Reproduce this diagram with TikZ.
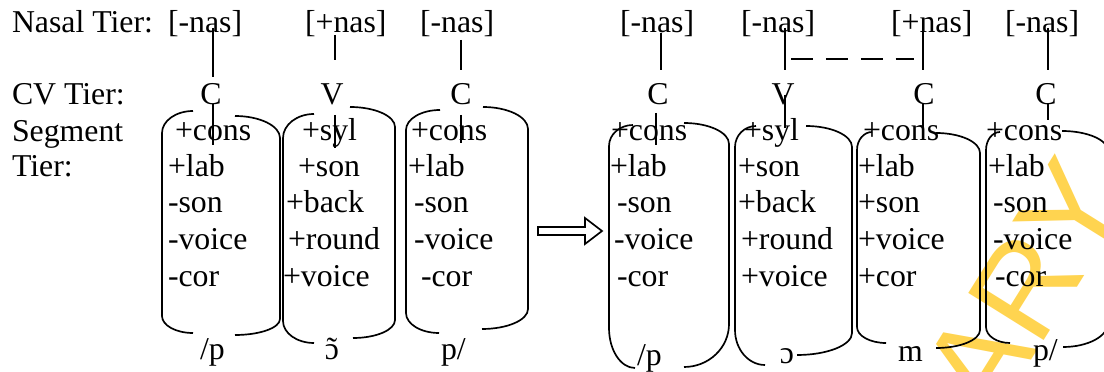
\documentclass[tikz,border=0pt]{standalone}
\usepackage{fontspec}
\setmainfont{Liberation Serif}
\newfontfamily\wmfont{Liberation Sans}
\definecolor{wmyellow}{RGB}{255,212,80}
\newcommand{\brhalf}[7]{%
 \pgfmathsetmacro{\BRca}{#2+0.552*(#1-#2)}%
 \pgfmathsetmacro{\BRcb}{#3+0.448*#4}%
 \pgfmathsetmacro{\BRys}{#3+#4}%
 \pgfmathsetmacro{\BRye}{#6-#7}%
 \pgfmathsetmacro{\BRcc}{#6-0.448*#7}%
 \pgfmathsetmacro{\BRcd}{#5+0.552*(#1-#5)}%
 \draw[brk] (#2,#3) .. controls (\BRca,#3) and (#1,\BRcb) .. (#1,\BRys) -- (#1,\BRye) .. controls (#1,\BRcc) and (\BRcd,#6) .. (#5,#6);%
}
\begin{document}
\begin{tikzpicture}[x=0.387pt,y=-0.387pt,
  txt/.style={anchor=base west,inner sep=0pt,outer sep=0pt,font=\fontsize{12.3}{14}\selectfont},
  ctr/.style={anchor=base,inner sep=0pt,outer sep=0pt,font=\fontsize{12.3}{14}\selectfont},
  brk/.style={line width=0.65pt},
  conn/.style={line width=0.65pt},
  dashconn/.style={line width=0.65pt,dash pattern=on 8.5pt off 5pt}]
\clip (0,0) rectangle (1104,372);
\fill[white] (0,0) rectangle (1104,372);
% watermark fragment
\node[rotate=58,text=wmyellow,inner sep=0pt,font=\wmfont\fontsize{50}{50}\selectfont] (wm) at (1025,287) {ARY};
% row labels
\node[txt] (lnas) at (12,33) {Nasal Tier:};
\node[txt] (lcv) at (12,105) {CV Tier:};
\node[txt] (lseg) at (12,142) {Segment};
\node[txt] (ltier) at (12,177) {Tier:};
% nasal tier
\node[txt] (na1) at (168,33) {[-nas]};
\node[txt] (na2) at (305,33) {[+nas]};
\node[txt] (na3) at (420,33) {[-nas]};
\node[txt] (nb1) at (620,33) {[-nas]};
\node[txt] (nb2) at (741,33) {[-nas]};
\node[txt] (nb3) at (891,33) {[+nas]};
\node[txt] (nb4) at (1005,33) {[-nas]};
% CV tier
\node[ctr] (ca1) at (211,105) {C};
\node[ctr] (ca2) at (332,105) {V};
\node[ctr] (ca3) at (461,105) {C};
\node[ctr] (cb1) at (658,105) {C};
\node[ctr] (cb2) at (783,105) {V};
\node[ctr] (cb3) at (924,105) {C};
\node[ctr] (cb4) at (1046,105) {C};
% segment columns (left)
\node[txt] at (175,141) {+cons};
\node[txt] at (168,177) {+lab};
\node[txt] at (168,213) {-son};
\node[txt] at (168,250) {-voice};
\node[txt] at (168,287) {-cor};
\node[txt] at (302,141) {+syl};
\node[txt] at (298,177) {+son};
\node[txt] at (286,213) {+back};
\node[txt] at (288,250) {+round};
\node[txt] at (283,287) {+voice};
\node[txt] at (411,141) {+cons};
\node[txt] at (408,177) {+lab};
\node[txt] at (414,213) {-son};
\node[txt] at (414,250) {-voice};
\node[txt] at (421,287) {-cor};
% segment columns (right)
\node[txt] at (611,141) {+cons};
\node[txt] at (610,177) {+lab};
\node[txt] at (617,213) {-son};
\node[txt] at (614,250) {-voice};
\node[txt] at (617,287) {-cor};
\node[txt] at (744,141) {+syl};
\node[txt] at (738,177) {+son};
\node[txt] at (738,213) {+back};
\node[txt] at (741,250) {+round};
\node[txt] at (741,287) {+voice};
\node[txt] at (863,141) {+cons};
\node[txt] at (858,177) {+lab};
\node[txt] at (858,213) {+son};
\node[txt] at (858,250) {+voice};
\node[txt] at (858,287) {+cor};
\node[txt] at (986,141) {+cons};
\node[txt] at (988,177) {+lab};
\node[txt] at (993,213) {-son};
\node[txt] at (993,250) {-voice};
\node[txt] at (995,287) {-cor};
% bottom labels
\node[txt] (pa1) at (200,360) {/p};
\node[ctr] (pa2) at (332,360) {ɔ};
\node[ctr] (pa2t) at (332,360) {˜};
\node[txt] (pa3) at (441,360) {p/};
\node[txt] (pb1) at (637,366) {/p};
\node[ctr] (pb2) at (787,364) {ɔ};
\node[txt] (pb3) at (898,362) {m};
\node[txt] (pb4) at (1033,361) {p/};
% brackets
\brhalf{162}{193}{111}{22}{193}{333}{17}
\brhalf{280}{235}{116}{22}{235}{335}{16}
\brhalf{283}{314}{114}{24}{314}{343}{22}
\brhalf{395}{350}{107}{20}{353}{338}{18}
\brhalf{406}{440}{110}{20}{439}{333}{20}
\brhalf{528}{483}{107}{22}{482}{329}{20}
\brhalf{609}{633}{125}{21}{635}{368}{40}
\brhalf{729}{684}{123}{21}{684}{367}{43}
\brhalf{735}{756}{126}{21}{765}{365}{35}
\brhalf{852}{806}{126}{21}{797}{355}{22}
\brhalf{857}{872}{132}{18}{886}{343}{16}
\brhalf{980}{936}{133}{20}{936}{348}{18}
\brhalf{986}{1000}{132}{18}{1010}{343}{16}
\brhalf{1108}{1062}{131}{20}{1063}{347}{24}
% connector end points
\coordinate (a1t) at (213,28);  \coordinate (a1b) at (213,77);
\coordinate (a2t) at (335,35);  \coordinate (a2b) at (335,60);
\coordinate (a3t) at (461,40);  \coordinate (a3b) at (461,70);
\coordinate (b1t) at (661,33);  \coordinate (b1b) at (661,70);
\coordinate (b2t) at (785,28);  \coordinate (b2b) at (785,70);
\coordinate (b3t) at (923,22);  \coordinate (b3b) at (923,70);
\coordinate (b4t) at (1048,28); \coordinate (b4b) at (1048,70);
\coordinate (s1t) at (213,104); \coordinate (s1b) at (213,145);
\coordinate (s2t) at (335,115); \coordinate (s2b) at (335,148);
\coordinate (s3t) at (461,115); \coordinate (s3b) at (461,143);
\coordinate (r1t) at (656,113); \coordinate (r1b) at (656,145);
\coordinate (r2t) at (785,95);  \coordinate (r2b) at (785,128);
\coordinate (r3t) at (923,103); \coordinate (r3b) at (923,128);
\coordinate (r4t) at (1048,103);\coordinate (r4b) at (1048,120);
\coordinate (dst) at (791,59);  \coordinate (den) at (914,59);
\draw[conn] (a1t) -- (a1b);
\draw[conn] (a2t) -- (a2b);
\draw[conn] (a3t) -- (a3b);
\draw[conn] (b1t) -- (b1b);
\draw[conn] (b2t) -- (b2b);
\draw[conn] (b3t) -- (b3b);
\draw[conn] (b4t) -- (b4b);
\draw[conn] (s1t) -- (s1b);
\draw[conn] (s2t) -- (s2b);
\draw[conn] (s3t) -- (s3b);
\draw[conn] (r1t) -- (r1b);
\draw[conn] (r2t) -- (r2b);
\draw[conn] (r3t) -- (r3b);
\draw[conn] (r4t) -- (r4b);
\draw[dashconn] (dst) -- (den);
% rule arrow
\draw[line width=0.65pt,line join=miter] (538,227) -- (585,227) -- (585,218) -- (602,231) -- (585,244) -- (585,235) -- (538,235) -- cycle;
\end{tikzpicture}
\end{document}
